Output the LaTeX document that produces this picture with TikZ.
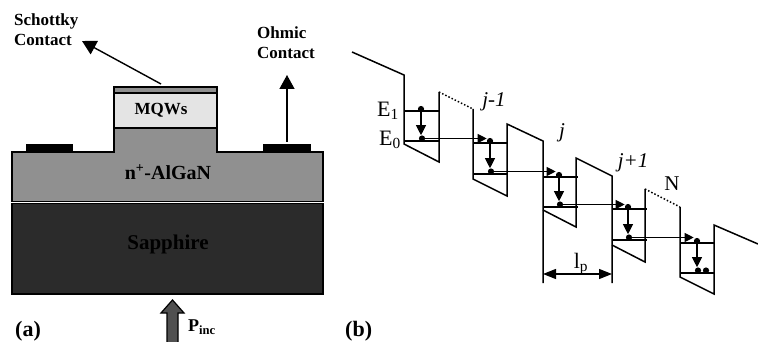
\documentclass[tikz,border=0pt]{standalone}
\usepackage{fontspec}
\setmainfont{Liberation Serif}
\usetikzlibrary{arrows.meta,calc}
\definecolor{algan}{HTML}{909090}
\definecolor{sapph}{HTML}{2B2B2B}
\definecolor{mqw}{HTML}{E4E4E4}
\definecolor{pump}{HTML}{505050}

\begin{document}
\begin{tikzpicture}[
    x=1pt, y=-1pt,
    label/.style={font=\bfseries\fontsize{#1}{20}\selectfont, align=left, inner sep=0pt},
    label/.default=17,
    plain/.style={font=\fontsize{22}{24}\selectfont, inner sep=0pt},
    layer/.style={draw, line width=1.2pt, fill=#1},
    contact/.style={fill=black, minimum height=8pt, inner sep=0pt},
    arrow/.style={-{Triangle[length=14pt, width=15pt]}, line width=1.4pt},
    band/.style={line width=1.5pt, line join=miter},
    level/.style={line width=1.5pt},
    electron/.style={circle, fill=black, inner sep=0pt, minimum size=6.2pt},
    relax/.style={-{Triangle[length=10pt, width=10pt]}, line width=1.1pt},
    tunnel/.style={-{Triangle[length=9pt, width=9pt]}, line width=1.1pt},
]
\useasboundingbox (0,0) rectangle (758,342);

% device stack
\draw[layer=sapph] (12,203.5) rectangle (323,294);
\draw[layer=algan] (12,201.5) |- (114,152) |- (217,128) |- (323,152) -- (323,201.5) -- cycle;
\draw[layer=mqw] (114,93) rectangle (217,128);
\draw[layer=algan] (114,87) rectangle (217,93);
\node[contact, minimum width=47pt] (leftpad) at (49.5,148) {};
\node[contact, minimum width=48pt] (rightpad) at (287,148) {};

\node[label] (mqws) at (161,110) {MQWs};
\node[label=20] (algantext) at (168,172) {n\textsuperscript{+}-AlGaN};
\node[label=21, text=black] (sapphtext) at (168,244) {Sapphire};
\node[label, anchor=west] (schottky) at (14,30) {Schottky\\Contact};
\node[label, anchor=west] (ohmic) at (257,43) {Ohmic\\Contact};
\node[label=22, anchor=west] (parta) at (15,331) {(a)};
\node[label=22, anchor=west] (partb) at (345,331) {(b)};
\node[label=18, anchor=west] (pinc) at (188,327) {P\textsubscript{inc}};

\coordinate (mesatop) at (161,84);
\coordinate (schottkyend) at (82,41);
\coordinate (ohmicend) at (287,75);
\draw[arrow] (mesatop) -- (schottkyend);
\draw[arrow] (rightpad.north) ++(0,-2) -- (ohmicend);
\draw[draw=black, line width=1.2pt, fill=pump] (167,343) -- (167,313) -- (161,313) -- (172.5,300)
    -- (184,313) -- (178,313) -- (178,343) -- cycle;

% band profile
\draw[band] (352,52) -- (404,75) -- (404,144) -- (439,162) -- (439,92);
\draw[band, dotted] (439,92) -- (473,109);
\draw[band] (473,109) -- (473,179) -- (507,196) -- (507,124) -- (543,141) -- (543,283);
\draw[band] (543,210) -- (576,227) -- (576,158) -- (612,176) -- (612,283);
\draw[band] (612,245) -- (645,262) -- (645,189);
\draw[band, dotted] (645,189) -- (680,207);
\draw[band] (680,207) -- (680,277) -- (714,294) -- (714,225) -- (758,244);

% levels, electrons and relaxation in each well
\foreach \n/\xl/\ea/\eb/\xd in {1/404/111/141/421, 2/473/143/174/490, 3/543/177/207/559, 4/612/209/240/628, 5/680/243/273/697} {
    \draw[level] (\xl,\ea) -- (\xl+35,\ea);
    \draw[level] (\xl,\eb) -- (\xl+35,\eb);
    \node[electron] (u\n) at (\xd,\ea-2) {};
    \node[electron] (l\n) at (\xd+1,\eb-2.5) {};
    \draw[relax] (u\n.south) -- (u\n.south |- l\n.north);
}
\node[electron] (l5b) at (706,270.5) {};

\foreach \a/\b in {1/2, 2/3, 3/4, 4/5} {
    \draw[tunnel] (l\a) -- (l\a -| u\b.west);
}

% period
\coordinate (pleft) at (543,274);
\coordinate (pright) at (612,274);
\draw[{Triangle[length=13pt, width=10pt]}-{Triangle[length=13pt, width=10pt]}, line width=1.2pt] (pleft) -- (pright);

\node[plain] (lp) at (581,264) {l\textsubscript{p}};
\node[plain, anchor=east] (eone) at (399,111) {E\textsubscript{1}};
\node[plain, anchor=east] (ezero) at (401,140) {E\textsubscript{0}};
\node[plain, font=\itshape\fontsize{21}{24}\selectfont] (jm) at (494,102) {j-1};
\node[plain, font=\itshape\fontsize{21}{24}\selectfont] (j) at (562,133) {j};
\node[plain, font=\itshape\fontsize{21}{24}\selectfont] (jp) at (633,163) {j+1};
\node[plain, font=\fontsize{21}{24}\selectfont] (nlast) at (672,184) {N};
\end{tikzpicture}
\end{document}
